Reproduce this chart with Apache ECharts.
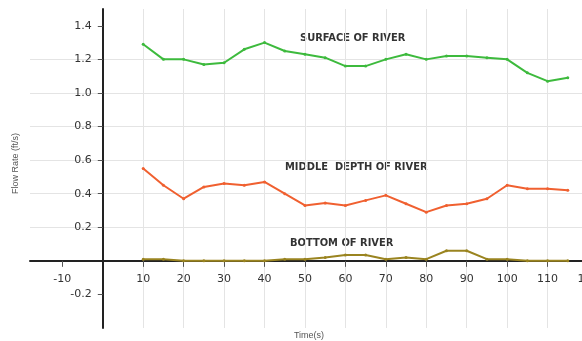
<!DOCTYPE html>
<html>
<head>
<meta charset="utf-8">
<script src="https://cdn.jsdelivr.net/npm/echarts@6/dist/echarts.min.js"></script>
<style>html,body{margin:0;padding:0;background:#fff}#c{width:582px;height:341px}</style>
</head>
<body>
<div id="c"></div>
<script>
const times = [10,15,20,25,30,35,40,45,50,55,60,65,70,75,80,85,90,95,100,105,110,115];
const surface = [1.29,1.20,1.20,1.17,1.18,1.26,1.30,1.25,1.23,1.21,1.16,1.16,1.20,1.23,1.20,1.22,1.22,1.21,1.20,1.12,1.07,1.09];
const middle = [0.55,0.45,0.37,0.44,0.46,0.45,0.47,0.40,0.33,0.345,0.33,0.36,0.39,0.34,0.29,0.33,0.34,0.37,0.45,0.43,0.43,0.42];
const bottom = [0.01,0.01,0.0,0.0,0.0,0.0,0.0,0.01,0.01,0.02,0.035,0.035,0.01,0.02,0.01,0.06,0.06,0.01,0.01,0.0,0.0,0.0];
const xTicks = [-10,10,20,30,40,50,60,70,80,90,100,110,120];
const yTicks = [-0.2,0.2,0.4,0.6,0.8,1.0,1.2,1.4];
const labels = [
  {text:'SURFACE OF RIVER', x:300, y:39},
  {text:'MIDDLE  DEPTH OF RIVER', x:285, y:168},
  {text:'BOTTOM OF RIVER', x:290, y:244}
];
const pair = a => times.map((t,i)=>[t,a[i]]);
const chart = echarts.init(document.getElementById('c'));
const lineSeries = (data, color) => ({
  type:'line', data: pair(data), symbol:'circle', symbolSize:3,
  itemStyle:{color:color}, lineStyle:{color:color,width:2}, z:3
});
const W = 582, H = 341;
const grid = {left:30,right:-6,top:9,bottom:13,outerBoundsMode:'none',containLabel:false};
chart.setOption({
  animation:false,
  grid:grid,
  xAxis:{
    type:'value', min:-18, max:120,
    axisLine:{onZero:false,lineStyle:{color:'#222',width:2}},
    axisTick:{customValues:xTicks,length:6,lineStyle:{color:'#555'}},
    axisLabel:{customValues:xTicks,margin:13,color:'#333',fontSize:11,fontFamily:'DejaVu Sans'},
    splitLine:{show:true,showMinLine:false,lineStyle:{color:'#e4e4e4'}},
    name:'Time(s)', nameLocation:'middle', nameGap:70, nameTextStyle:{color:'#555',fontSize:9}
  },
  yAxis:{
    type:'value', min:-0.4, max:1.5,
    axisLine:{onZero:false,lineStyle:{color:'#222',width:2}},
    axisTick:{customValues:yTicks,length:5,lineStyle:{color:'#555'}},
    axisLabel:{customValues:yTicks,margin:11,color:'#333',fontSize:11,fontFamily:'DejaVu Sans',formatter:v=>v.toFixed(1)},
    splitLine:{show:true,showMinLine:false,showMaxLine:false,lineStyle:{color:'#e4e4e4'}},
    name:'Flow Rate (ft/s)', nameLocation:'middle', nameGap:83, nameRotate:90,
    nameTextStyle:{color:'#555',fontSize:9,padding:[0,0,0,10]}
  },
  series:[
    lineSeries(surface,'#3dba3d'),
    lineSeries(middle,'#f06030'),
    lineSeries(bottom,'#9a8420')
  ],
  graphic: labels.map(l=>({
    type:'text', left:l.x, top:l.y-6,
    style:{text:l.text, fill:'#333', font:'bold 11px "DejaVu Sans Condensed", "DejaVu Sans"'}
  }))
});
// move axes so they cross at the data origin (0,0)
const origin = chart.convertToPixel({gridIndex:0},[0,0]);
chart.setOption({
  xAxis:{offset:-((H-grid.bottom)-origin[1])},
  yAxis:{offset:-(origin[0]-grid.left)}
});
</script>
</body>
</html>
